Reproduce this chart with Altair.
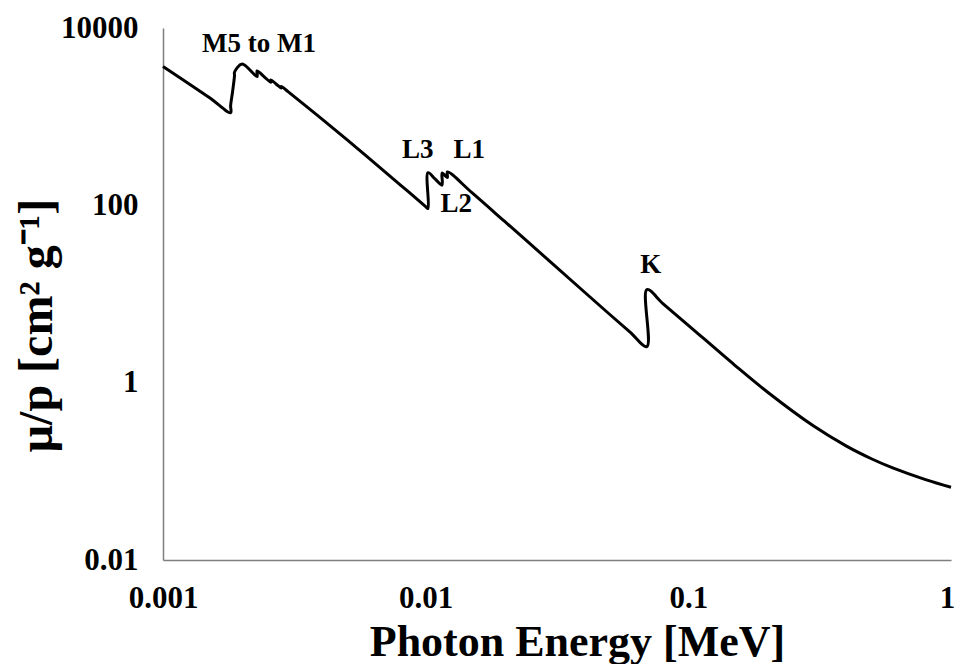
import altair as alt
import pandas as pd

# Mass attenuation coefficient of tungsten vs photon energy (absorption edges doubled)
energy_mev = [
    0.001, 0.0015, 0.0018092, 0.0018092, 0.0018401, 0.0018716, 0.0018716, 0.002,
    0.002281, 0.002281, 0.0024235, 0.0025749, 0.0025749, 0.0026945, 0.0028196, 0.0028196,
    0.003, 0.004, 0.005, 0.006, 0.008, 0.01, 0.0102068, 0.0102068,
    0.0108548, 0.011544, 0.011544, 0.0118186, 0.0120998, 0.0120998, 0.015, 0.02,
    0.03, 0.04, 0.05, 0.06, 0.069525, 0.069525, 0.08, 0.1,
    0.15, 0.2, 0.3, 0.4, 0.5, 0.6, 0.8, 1.0,
]
mu_rho = [
    3683, 1643, 1108, 1327, 1911, 2901, 3170, 3922,
    2828, 3279, 2833, 2445, 2599, 2339, 2104, 2194,
    1902, 956.4, 553.4, 351.4, 170.5, 96.91, 92.01, 233.4,
    198.3, 168.9, 231.2, 218.5, 206.0, 238.2, 138.9, 65.73,
    22.73, 10.67, 5.949, 3.713, 2.552, 11.23, 7.810, 4.438,
    1.581, 0.7844, 0.3238, 0.1925, 0.1378, 0.1093, 0.08066, 0.06618,
]

# Edge annotations
edge_labels = ["M5 to M1", "L3", "L1", "L2", "K"]
label_energy = [0.002322, 0.009322, 0.014644, 0.013066, 0.07196]
label_mu = [5355, 342, 342, 84.2, 17.27]

x_ticks = [0.001, 0.01, 0.1, 1]
y_ticks = [0.01, 1, 100, 10000]

curve = pd.DataFrame({"E": energy_mev, "mu": mu_rho, "i": range(len(energy_mev))})
labels = pd.DataFrame({"E": label_energy, "mu": label_mu, "text": edge_labels})

FONT = "Liberation Serif"

x_scale = alt.Scale(type="log", domain=[0.001, 1], nice=False)
y_scale = alt.Scale(type="log", domain=[0.01, 10000], nice=False)

line = alt.Chart(curve).mark_line(
    color="black", strokeWidth=3, interpolate="catmull-rom"
).encode(
    x=alt.X(
        "E:Q",
        scale=x_scale,
        axis=alt.Axis(
            values=x_ticks,
            format="~g",
            title="Photon Energy [MeV]",
            grid=False,
            ticks=False,
            tickSize=0,
            domainColor="#7f7f7f",
            domainWidth=1.5,
            labelFont=FONT,
            labelFontSize=31,
            labelFontWeight="bold",
            labelColor="black",
            labelBaseline="alphabetic",
            labelPadding=47,
            labelOffset={"condition": {"test": "datum.value == 1", "value": -4}, "value": 0},
            labelOverlap=False,
            labelFlush=False,
            titleFont=FONT,
            titleFontSize=44,
            titleFontWeight="bold",
            titleColor="black",
            titleBaseline="alphabetic",
            titleX=414,
            titleY=95,
        ),
    ),
    y=alt.Y(
        "mu:Q",
        scale=y_scale,
        axis=alt.Axis(
            values=y_ticks,
            format="~g",
            title="μ/p [cm² g⁻¹]",
            grid=False,
            ticks=False,
            tickSize=0,
            domainColor="#7f7f7f",
            domainWidth=1.5,
            labelFont=FONT,
            labelFontSize=31,
            labelFontWeight="bold",
            labelColor="black",
            labelPadding=25,
            labelOverlap=False,
            labelFlush=False,
            titleFont=FONT,
            titleFontSize=48,
            titleFontWeight="bold",
            titleColor="black",
            titleBaseline="alphabetic",
            titleAngle=270,
            titleAlign="center",
            titleX=-112,
            titleY=297,
        ),
    ),
    order="i:Q",
)

text = alt.Chart(labels).mark_text(
    font=FONT, fontSize=27, fontWeight="bold", color="black", baseline="alphabetic"
).encode(
    x=alt.X("E:Q", scale=x_scale),
    y=alt.Y("mu:Q", scale=y_scale),
    text="text:N",
)

chart = (
    alt.layer(line, text)
    .properties(
        width=788,
        height=532,
        autosize=alt.AutoSizeParams(type="none"),
        padding={"left": 163, "top": 28, "right": 6, "bottom": 104},
        background="white",
    )
    .configure_view(stroke=None)
)

chart.save("out.html", embed_options={"renderer": "svg", "actions": False})
